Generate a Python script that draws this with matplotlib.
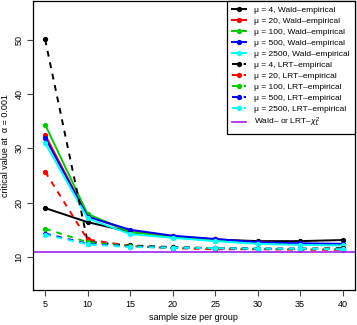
import numpy as np
import matplotlib
matplotlib.use("Agg")
import matplotlib.pyplot as plt

plt.rcParams['font.family'] = ['Liberation Sans', 'DejaVu Sans']
plt.rcParams['mathtext.fontset'] = 'custom'
plt.rcParams['mathtext.rm'] = 'Liberation Sans'
plt.rcParams['mathtext.it'] = 'Liberation Sans:italic'

# sample sizes per group
n = [5, 10, 15, 20, 25, 30, 35, 40]
mus = [4, 20, 100, 500, 2500]
colors = ['black', '#FF0000', '#00CD00', '#0000FF', '#00FFFF']

# Wald-empirical critical values
wald_4 = [19.0, 16.4, 14.6, 13.7, 13.2, 12.9, 12.9, 13.1]
wald_20 = [32.5, 17.5, 14.8, 13.8, 13.2, 12.7, 12.4, 12.3]
wald_100 = [34.4, 17.9, 14.6, 13.6, 13.0, 12.5, 12.3, 12.2]
wald_500 = [32.0, 17.4, 15.0, 13.9, 13.3, 12.7, 12.5, 12.4]
wald_2500 = [31.0, 17.1, 14.2, 13.5, 12.9, 12.4, 12.2, 12.1]

# LRT-empirical critical values
lrt_4 = [50.1, 12.8, 12.1, 11.8, 11.6, 11.5, 11.5, 11.6]
lrt_20 = [25.7, 13.2, 12.0, 11.6, 11.4, 11.4, 11.3, 11.3]
lrt_100 = [15.2, 12.7, 12.0, 11.7, 11.6, 11.5, 11.4, 11.4]
lrt_500 = [14.3, 12.4, 11.9, 11.7, 11.6, 11.5, 11.5, 11.4]
lrt_2500 = [14.1, 12.3, 11.8, 11.7, 11.6, 11.5, 11.5, 11.4]

chi2_crit = 10.83

wald = [wald_4, wald_20, wald_100, wald_500, wald_2500]
lrt = [lrt_4, lrt_20, lrt_100, lrt_500, lrt_2500]

fig = plt.figure(figsize=(3.57, 3.25), dpi=100)
ax = fig.add_axes([0.093, 0.108, 0.900, 0.889])

for mu, col, y in zip(mus, colors, wald):
    ax.plot(n, y, '-', color=col, lw=1.4, marker='o', ms=2.8,
            label='μ = %d, Wald–empirical' % mu)
for mu, col, y in zip(mus, colors, lrt):
    ax.plot(n, y, '--', color=col, lw=1.4, marker='o', ms=2.8, dashes=(3, 3),
            label='μ = %d, LRT–empirical' % mu)
ax.axhline(chi2_crit, color='#A020F0', lw=1.2, label=r'Wald– or LRT–$\chi^2_1$')

ax.set_xlim(3.6, 41.4)
ax.set_ylim(3.9, 57.2)
ax.set_xticks(n)
ax.set_yticks([10, 20, 30, 40, 50])
ax.tick_params(labelsize=6.5, length=4, width=0.8, color='#444444', pad=3)
for lab in ax.get_yticklabels():
    lab.set_rotation(90)
    lab.set_va('center')
for s in ax.spines.values():
    s.set_linewidth(0.9)
ax.set_xlabel('sample size per group', fontsize=6.5, labelpad=3)
ax.set_ylabel('critical value at  α = 0.001', fontsize=6.5, labelpad=3)

leg = ax.legend(loc='upper right', fontsize=6, fancybox=False, edgecolor='black',
                framealpha=1, borderaxespad=0, handlelength=1.6, labelspacing=0.38,
                borderpad=0.6, handletextpad=1.0)
leg.get_frame().set_linewidth(0.9)

fig.savefig('out.png', dpi=100)
